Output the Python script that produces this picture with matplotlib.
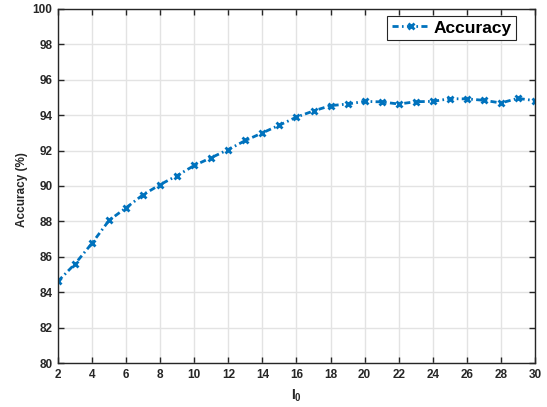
import matplotlib
matplotlib.use("Agg")
import matplotlib.pyplot as plt

plt.rcParams['font.family'] = ['Liberation Sans', 'DejaVu Sans']
plt.rcParams['mathtext.fontset'] = 'custom'
plt.rcParams['mathtext.rm'] = 'Liberation Sans'
plt.rcParams['mathtext.bf'] = 'Liberation Sans:bold'

# Accuracy versus l0
l0 = list(range(2, 31))
accuracy = [84.62, 85.60, 86.77, 88.06, 88.77, 89.51, 90.08, 90.59, 91.16, 91.60,
            92.06, 92.57, 93.00, 93.44, 93.89, 94.24, 94.54, 94.63, 94.78, 94.75,
            94.63, 94.76, 94.78, 94.93, 94.92, 94.84, 94.69, 94.95, 94.82]
xticks = list(range(2, 31, 2))
yticks = list(range(80, 101, 2))

fig = plt.figure(figsize=(5.47, 4.07), dpi=100)
ax = fig.add_axes([0.106, 0.108, 0.872, 0.870])

ax.plot(l0, accuracy, color='#0072BD', linewidth=2, dashes=(2.2, 1.2, 0.6, 1.2),
        marker='x', markersize=4.5, markeredgewidth=2, label='Accuracy')

ax.set_xlim(2, 30)
ax.set_ylim(80, 100)
ax.set_xticks(xticks)
ax.set_yticks(yticks)
ax.grid(True, color='#e3e3e3', linewidth=1)
ax.set_axisbelow(True)

for s in ax.spines.values():
    s.set_color('#262626')
    s.set_linewidth(1)
ax.tick_params(direction='in', top=True, right=True, length=4, width=1,
               color='#262626', labelsize=8.5, labelcolor='#262626', pad=4)
for lab in ax.get_xticklabels() + ax.get_yticklabels():
    lab.set_fontweight('bold')

ax.set_ylabel('Accuracy (%)', fontsize=8.5, fontweight='bold', color='#262626')
ax.yaxis.set_label_coords(-0.062, 0.49)
ax.set_xlabel(r'$\mathbf{I_0}$', fontsize=10, color='#262626', labelpad=5)

leg = ax.legend(loc='upper right', bbox_to_anchor=(0.960, 0.980),
                prop={'weight': 'bold', 'size': 12.5},
                fancybox=False, framealpha=1, edgecolor='#262626',
                handlelength=2.2, borderpad=0.25, handletextpad=0.2,
                borderaxespad=0)
leg.get_frame().set_linewidth(0.8)

fig.savefig('out.png', dpi=100)
